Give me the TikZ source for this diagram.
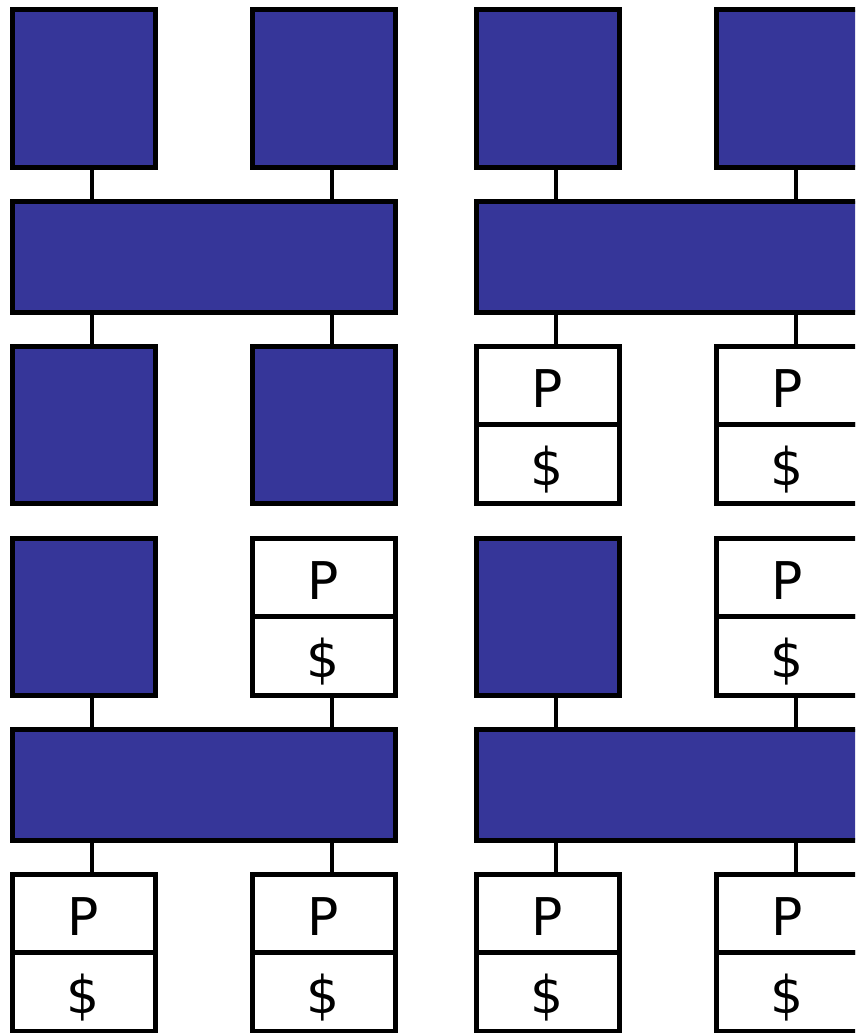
\documentclass[tikz,border=0pt]{standalone}
\usepackage{fontspec}
\setmainfont{DejaVu Sans}
\usetikzlibrary{positioning}
\definecolor{blkblue}{HTML}{363699}

\begin{document}
\begin{tikzpicture}[x=1pt,y=-1pt,
blk/.style={draw,line width=5pt,fill=blkblue,inner sep=0pt,outer sep=0pt,minimum width=143pt,minimum height=157pt},
bus/.style={blk,minimum width=383pt,minimum height=111pt},
half/.style={draw,line width=5pt,fill=white,inner sep=0pt,outer sep=0pt,minimum width=143pt,minimum height=78.5pt,text height=44pt,text depth=0pt,font=\fontsize{52}{62}\selectfont},
wire/.style={line width=4.5pt}]
\useasboundingbox (0,0) rectangle (855,1033);
\clip (0,0) rectangle (855,1033);
% top left
\node[blk] (s1a) at (83.5,88.5) {};
\node[blk] (s1b) at (323.5,88.5) {};
\node[bus] (bus1) at (203.5,256.5) {};
\node[blk] (s1c) at (83.5,424.5) {};
\node[blk] (s1d) at (323.5,424.5) {};
% top right
\node[blk] (s2a) at (547.5,88.5) {};
\node[blk] (s2b) at (787.5,88.5) {};
\node[bus] (bus2) at (667.5,256.5) {};
\node[half] (s2c) at (547.5,385.25) {P};
\node[half,below=0pt of s2c] (s2cc) {\$};
\node[half] (s2d) at (787.5,385.25) {P};
\node[half,below=0pt of s2d] (s2dd) {\$};
% bottom left
\node[blk] (s3a) at (83.5,616.5) {};
\node[half] (s3b) at (323.5,577.25) {P};
\node[half,below=0pt of s3b] (s3bb) {\$};
\node[bus] (bus3) at (203.5,784.5) {};
\node[half] (s3c) at (83.5,913.25) {P};
\node[half,below=0pt of s3c] (s3cc) {\$};
\node[half] (s3d) at (323.5,913.25) {P};
\node[half,below=0pt of s3d] (s3dd) {\$};
% bottom right
\node[blk] (s4a) at (547.5,616.5) {};
\node[half] (s4b) at (787.5,577.25) {P};
\node[half,below=0pt of s4b] (s4bb) {\$};
\node[bus] (bus4) at (667.5,784.5) {};
\node[half] (s4c) at (547.5,913.25) {P};
\node[half,below=0pt of s4c] (s4cc) {\$};
\node[half] (s4d) at (787.5,913.25) {P};
\node[half,below=0pt of s4d] (s4dd) {\$};
% wires
\draw[wire] ([xshift=8.5pt]s1a.south) -- ([xshift=8.5pt]s1a.south |- bus1.north);
\draw[wire] ([xshift=8.5pt]s1b.south) -- ([xshift=8.5pt]s1b.south |- bus1.north);
\draw[wire] ([xshift=8.5pt]s1c.north) -- ([xshift=8.5pt]s1c.north |- bus1.south);
\draw[wire] ([xshift=8.5pt]s1d.north) -- ([xshift=8.5pt]s1d.north |- bus1.south);
\draw[wire] ([xshift=8.5pt]s2a.south) -- ([xshift=8.5pt]s2a.south |- bus2.north);
\draw[wire] ([xshift=8.5pt]s2b.south) -- ([xshift=8.5pt]s2b.south |- bus2.north);
\draw[wire] ([xshift=8.5pt]s2c.north) -- ([xshift=8.5pt]s2c.north |- bus2.south);
\draw[wire] ([xshift=8.5pt]s2d.north) -- ([xshift=8.5pt]s2d.north |- bus2.south);
\draw[wire] ([xshift=8.5pt]s3a.south) -- ([xshift=8.5pt]s3a.south |- bus3.north);
\draw[wire] ([xshift=8.5pt]s3bb.south) -- ([xshift=8.5pt]s3bb.south |- bus3.north);
\draw[wire] ([xshift=8.5pt]s3c.north) -- ([xshift=8.5pt]s3c.north |- bus3.south);
\draw[wire] ([xshift=8.5pt]s3d.north) -- ([xshift=8.5pt]s3d.north |- bus3.south);
\draw[wire] ([xshift=8.5pt]s4a.south) -- ([xshift=8.5pt]s4a.south |- bus4.north);
\draw[wire] ([xshift=8.5pt]s4bb.south) -- ([xshift=8.5pt]s4bb.south |- bus4.north);
\draw[wire] ([xshift=8.5pt]s4c.north) -- ([xshift=8.5pt]s4c.north |- bus4.south);
\draw[wire] ([xshift=8.5pt]s4d.north) -- ([xshift=8.5pt]s4d.north |- bus4.south);
\end{tikzpicture}
\end{document}
